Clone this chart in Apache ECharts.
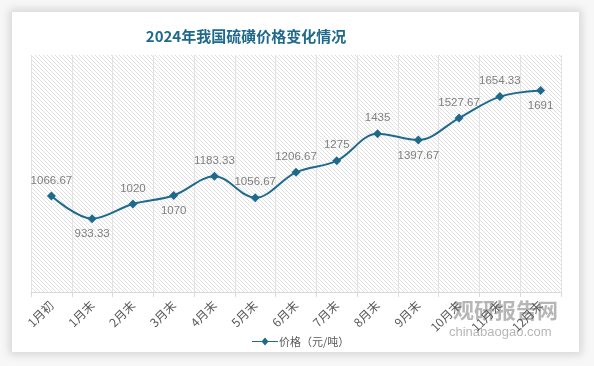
<!DOCTYPE html>
<html><head><meta charset="utf-8">
<script src="https://cdn.jsdelivr.net/npm/echarts@6/dist/echarts.min.js"></script>
<style>
html,body{margin:0;padding:0;background:#f7f7f7;}
#card{position:absolute;left:12px;top:12px;width:567px;height:340px;background:#fff;box-shadow:0 0 8px 3px rgba(0,0,0,0.13);}
#c{position:absolute;left:0;top:0;width:594px;height:366px;}
</style></head>
<body><div id="card"></div><div id="c"></div>
<script>
const categories = ['1月初','1月末','2月末','3月末','4月末','5月末','6月末','7月末','8月末','9月末','10月末','11月末','12月末'];
const prices = [1066.67, 933.33, 1020, 1070, 1183.33, 1056.67, 1206.67, 1275, 1435, 1397.67, 1527.67, 1654.33, 1691];
const labelPos = ['top','bottom','top','bottom','top','top','top','top','top','bottom','top','top','bottom'];
const seriesName = '价格（元/吨）';
const titleText = '2024年我国硫磺价格变化情况';

// hatch pattern
const pc = document.createElement('canvas');
pc.width = 4; pc.height = 4;
const g = pc.getContext('2d');
g.fillStyle = '#ffffff'; g.fillRect(0,0,4,4);
g.strokeStyle = '#e0e0e0'; g.lineWidth = 1;
g.beginPath();
g.moveTo(0,0); g.lineTo(4,4);
g.moveTo(-1,3); g.lineTo(1,5);
g.moveTo(3,-1); g.lineTo(5,1);
g.stroke();

const chart = echarts.init(document.getElementById('c'), null, {renderer:'canvas'});
chart.setOption({
  backgroundColor: 'transparent',
  title: {text: titleText, left: 241, top: 24, textAlign: 'center',
    textStyle: {fontFamily: 'Noto Sans CJK SC', fontWeight: 'bold', fontSize: 15, color: '#1f6a8c'}},
  legend: {bottom: 14, left: 247, itemWidth: 26, itemHeight: 8,
    data: [{name: seriesName, icon: 'path://M0,3.5L10,3.5L13,0L16,3.5L26,3.5L26,4.5L16,4.5L13,8L10,4.5L0,4.5Z'}],
    itemGap: 2, textStyle: {fontSize: 11, color: '#595959', fontFamily: 'Noto Sans CJK SC', padding:[0,0,0,-4]}},
  grid: {left: 31, right: 33, top: 55, bottom: 74, show: true, backgroundColor: {image: pc, repeat: 'repeat'}, borderWidth: 0},
  xAxis: {type: 'category', data: categories, boundaryGap: true,
    axisLine: {lineStyle: {color: '#d9d9d9'}},
    axisTick: {show: true, length: 5, lineStyle: {color: '#d9d9d9'}},
    splitLine: {show: true, lineStyle: {color: '#e3e3e3'}},
    axisLabel: {rotate: 45, fontSize: 12, color: '#595959', margin: 11, fontFamily: 'Noto Sans CJK SC'}},
  yAxis: {type: 'value', min: 500, max: 1900, show: false, splitLine: {show: false}},
  series: [{
    name: seriesName, type: 'line', smooth: 0.35, data: prices.map((v,i)=>({value: v, label: {position: labelPos[i]}})),
    symbol: 'diamond', symbolSize: 9, lineStyle: {color: '#1f6a8c', width: 2}, itemStyle: {color: '#1f6a8c'},
    label: {show: true, fontSize: 11.5, color: '#7f7f7f', distance: 5, fontFamily: 'Liberation Sans'}
  }],
  graphic: [
    {type: 'text', left: 453, top: 300, style: {text: '观研报告网', fontSize: 21, fontWeight: 'bold', fill: 'rgba(110,110,110,0.5)', fontFamily: 'Noto Sans CJK SC'}},
    {type: 'text', left: 449, top: 326, style: {text: 'chinabaogao.com', fontSize: 13, fill: 'rgba(110,110,110,0.5)', fontFamily: 'Liberation Sans'}}
  ]
});
</script></body></html>
